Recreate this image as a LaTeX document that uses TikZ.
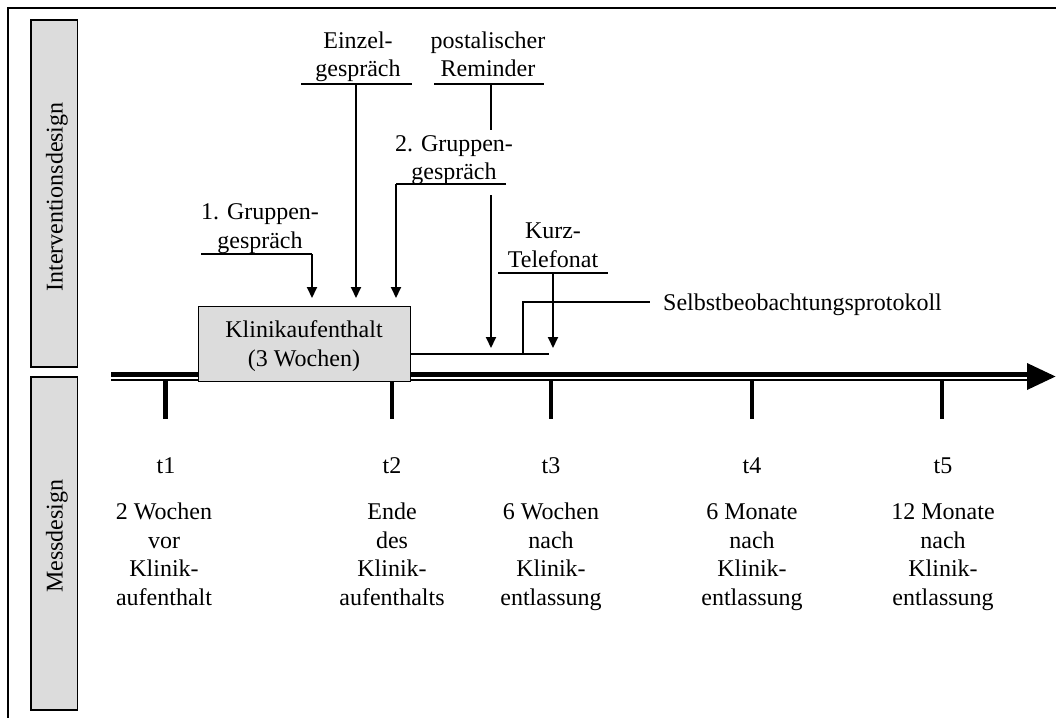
\documentclass[tikz,border=0pt]{standalone}
\usepackage{fontspec}
\setmainfont{Liberation Serif}
\usetikzlibrary{arrows.meta}
\definecolor{boxgray}{HTML}{DCDCDC}
\begin{document}
\begin{tikzpicture}[x=1bp,y=-1bp,
  lbl/.style={font=\fontsize{24bp}{28.5bp}\selectfont, align=center, inner sep=0pt, anchor=base},
  sidebox/.style={draw=black, line width=1.3bp, fill=boxgray, inner sep=0pt},
  sidetext/.style={font=\fontsize{24bp}{28.5bp}\selectfont, rotate=90, inner sep=0pt},
  conn/.style={line width=1.8bp},
  arr/.style={line width=2bp, -{Triangle[width=10bp,length=11bp]}},
  tick/.style={line width=4.3bp},
]
\useasboundingbox (0,0) rectangle (1056,718);
% frame
\coordinate (fbl) at (8,718);
\coordinate (ftl) at (8,8);
\coordinate (ftr) at (1056,8);
\draw[line width=2bp] (fbl) -- (ftl) -- (ftr);

% side boxes
\node[sidebox, minimum width=46.3bp, minimum height=347bp] (ib) at (54,193.5) {};
\node[sidetext] (ibt) at (57,197) {Interventionsdesign};
\node[sidebox, minimum width=46.3bp, minimum height=333bp] (mb) at (54,543.5) {};
\node[sidetext] (mbt) at (57,536) {Messdesign};

% timeline
\coordinate (tls1) at (111,374.8);
\coordinate (tle1) at (1030,374.8);
\coordinate (tls2) at (111,380);
\coordinate (tle2) at (1028,380);
\draw[line width=5bp] (tls1) -- (tle1);
\draw[line width=1.5bp] (tls2) -- (tle2);
\coordinate (ah1) at (1027,363);
\coordinate (ah2) at (1055.5,376.5);
\coordinate (ah3) at (1027,390);
\fill (ah1) -- (ah2) -- (ah3) -- cycle;

% ticks
\foreach \n/\x in {1/165.5,2/391.7,3/551,4/752,5/942}{
  \coordinate (tk\n a) at (\x,381);
  \coordinate (tk\n b) at (\x,418.5);
  \draw[tick] (tk\n a) -- (tk\n b);
}

% Klinik box
\node[draw=black, line width=1bp, fill=boxgray, minimum width=212bp, minimum height=75bp, inner sep=0pt] (klinik) at (304,343.5) {};
\node[lbl] (klinikt) at (304,366) {Klinikaufenthalt\\(3 Wochen)};

% intervention labels
\node[lbl] (einzel) at (358,77) {Einzel-\\gespräch};
\node[lbl] (remind) at (488,77) {postalischer\\Reminder};
\node[lbl] (grp2) at (454,180) {2. Gruppen-\\gespräch};
\node[lbl] (grp1) at (260,248) {1. Gruppen-\\gespräch};
\node[lbl] (kurz) at (553,267) {Kurz-\\Telefonat};
\node[lbl, anchor=base west] (selbst) at (663,310) {Selbstbeobachtungsprotokoll};

% connector coordinates
\coordinate (g1a) at (201,254);
\coordinate (g1b) at (312,254);
\coordinate (g1c) at (312,298);
\coordinate (ea) at (301,84);
\coordinate (eb) at (412,84);
\coordinate (ec) at (356,84);
\coordinate (ed) at (356,298);
\coordinate (g2a) at (506,184);
\coordinate (g2b) at (396,184);
\coordinate (g2c) at (396,298);
\coordinate (ra) at (434,84);
\coordinate (rb) at (544,84);
\coordinate (rc) at (491,84);
\coordinate (rd) at (491,130);
\coordinate (re) at (491,195);
\coordinate (rf) at (491,348);
\coordinate (ka) at (498,273);
\coordinate (kb) at (608,273);
\coordinate (kc) at (553,273);
\coordinate (kd) at (553,348);
\coordinate (sa) at (410,354);
\coordinate (sb) at (549,354);
\coordinate (sc) at (523,354);
\coordinate (sd) at (523,302);
\coordinate (se) at (650,302);

\draw[conn] (g1a) -- (g1b);
\draw[arr] (g1b) -- (g1c);
\draw[conn] (ea) -- (eb);
\draw[arr] (ec) -- (ed);
\draw[conn] (g2a) -- (g2b);
\draw[arr] (g2b) -- (g2c);
\draw[conn] (ra) -- (rb);
\draw[conn] (rc) -- (rd);
\draw[arr] (re) -- (rf);
\draw[conn] (ka) -- (kb);
\draw[arr] (kc) -- (kd);
\draw[conn] (sa) -- (sb);
\draw[conn] (sc) -- (sd) -- (se);

% measurement labels
\node[lbl] (t1) at (166,473) {t1};
\node[lbl] (t2) at (392,473) {t2};
\node[lbl] (t3) at (551,473) {t3};
\node[lbl] (t4) at (752,473) {t4};
\node[lbl] (t5) at (943,473) {t5};
\node[lbl] (d1) at (164,605) {2 Wochen\\vor\\Klinik-\\aufenthalt};
\node[lbl] (d2) at (392,605) {Ende\\des\\Klinik-\\aufenthalts};
\node[lbl] (d3) at (551,605) {6 Wochen\\nach\\Klinik-\\entlassung};
\node[lbl] (d4) at (752,605) {6 Monate\\nach\\Klinik-\\entlassung};
\node[lbl] (d5) at (943,605) {12 Monate\\nach\\Klinik-\\entlassung};
\end{tikzpicture}
\end{document}
